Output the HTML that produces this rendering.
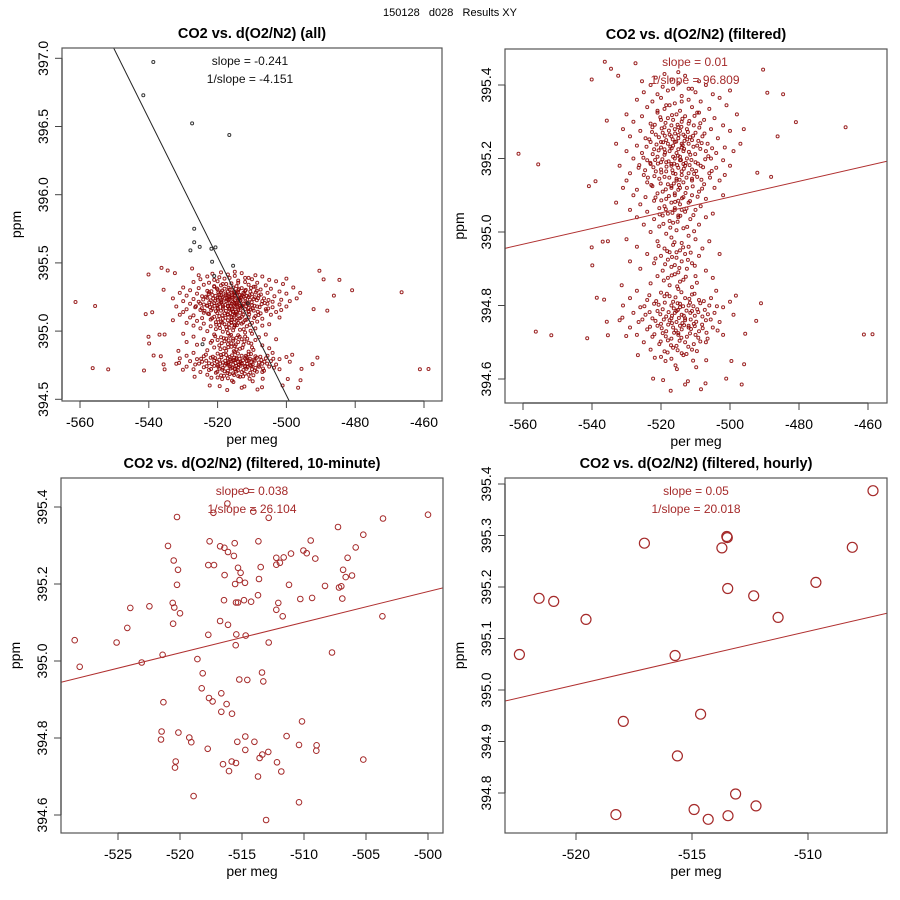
<!DOCTYPE html>
<html><head><meta charset="utf-8"><title>150128 d028 Results XY</title>
<style>
html,body{margin:0;padding:0;background:#fff;}
svg{display:block;font-family:"Liberation Sans",Arial,sans-serif;}
</style></head>
<body>
<svg id="chart" width="900" height="900" viewBox="0 0 900 900" xmlns="http://www.w3.org/2000/svg">
<rect x="0" y="0" width="900" height="900" fill="#fff"/>
<text x="450" y="16" text-anchor="middle" font-size="11" fill="#000" xml:space="preserve">150128   d028   Results XY</text>
</svg>
<script>
// ---------------- DATA ----------------
const densePts = [
[-521.5,395.42],[-517,395.415],[-513,395.425],[-509,395.41],[-519,395.43],[-515,395.435],
[-523,395.40],[-519.5,395.395],[-515,395.405],[-511,395.39],[-507,395.40],[-525.5,395.41],[-516.5,395.39],
[-525,395.38],[-521,395.375],[-518,395.385],[-514,395.37],[-510,395.38],[-505,395.375],[-500,395.385],[-512,395.39],
[-527,395.36],[-522.5,395.355],[-520,395.365],[-516,395.35],[-512,395.36],[-508.5,395.355],[-503,395.365],[-518.5,395.345],[-514,395.355],
[-524,395.34],[-519,395.335],[-517.5,395.345],[-514.5,395.33],[-511,395.34],[-506,395.335],[-501,395.345],[-521,395.33],[-509,395.325],
[-530,395.32],[-525.5,395.315],[-521,395.325],[-518,395.31],[-515.5,395.32],[-513,395.315],[-509.5,395.325],[-504.5,395.31],[-498,395.32],[-516.5,395.305],
[-528,395.30],[-523,395.295],[-520,395.305],[-517,395.29],[-514,395.30],[-512,395.295],[-507.5,395.305],[-502,395.29],[-519,395.285],[-515,395.285],[-510.5,395.29],
[-531,395.28],[-526,395.275],[-522.5,395.285],[-519.5,395.27],[-516,395.28],[-514.5,395.275],[-512.5,395.28],[-510,395.27],[-505.5,395.28],[-500,395.275],[-496,395.28],[-517.5,395.265],[-513.5,395.265],
[-529,395.26],[-524.5,395.255],[-521.5,395.265],[-518.5,395.25],[-517,395.26],[-515,395.255],[-513,395.26],[-511,395.25],[-508,395.26],[-503.5,395.255],[-520,395.245],[-516,395.245],[-514,395.24],
[-533,395.24],[-527,395.235],[-523,395.245],[-520,395.23],[-518,395.24],[-516.5,395.235],[-514,395.23],[-512,395.24],[-509.5,395.235],[-506.5,395.24],[-501.5,395.23],[-497,395.24],[-515,395.225],[-519,395.225],
[-530,395.22],[-525.5,395.215],[-522,395.225],[-519,395.21],[-517.5,395.22],[-515.5,395.215],[-513.5,395.22],[-511.5,395.21],[-507,395.22],[-504,395.215],[-499,395.22],[-516.5,395.205],[-514.5,395.205],
[-528,395.20],[-524,395.195],[-521,395.205],[-518.5,395.19],[-516,395.20],[-514.5,395.195],[-512.5,395.20],[-510,395.19],[-505.5,395.20],[-502,395.195],[-517,395.185],[-513.5,395.185],[-520,395.19],
[-532,395.18],[-526.5,395.175],[-523,395.185],[-520,395.17],[-517,395.18],[-515,395.175],[-513,395.18],[-511,395.17],[-508.5,395.18],[-504,395.175],[-500,395.18],[-518.5,395.165],[-514,395.165],
[-529,395.16],[-525,395.155],[-521.5,395.165],[-519,395.15],[-516.5,395.16],[-514,395.155],[-512,395.16],[-509.5,395.15],[-506,395.16],[-501.5,395.155],[-515.5,395.145],[-511,395.145],
[-530,395.14],[-524,395.135],[-520.5,395.145],[-518,395.13],[-515.5,395.14],[-513.5,395.135],[-511,395.14],[-507.5,395.13],[-503,395.14],[-517,395.125],[-514.5,395.12],
[-531,395.12],[-527,395.115],[-522.5,395.125],[-519.5,395.11],[-517,395.12],[-515,395.115],[-512.5,395.12],[-509,395.11],[-504.5,395.12],[-516,395.105],
[-528,395.10],[-524.5,395.095],[-521,395.105],[-518.5,395.09],[-516,395.10],[-513.5,395.095],[-511,395.10],[-507,395.09],[-502,395.10],[-515,395.085],
[-533,395.08],[-526,395.075],[-522,395.085],[-519,395.07],[-517,395.08],[-514.5,395.075],[-512,395.08],[-508.5,395.07],[-516,395.065],[-514,395.06],
[-529,395.06],[-524,395.055],[-520.5,395.065],[-518,395.05],[-516,395.06],[-513,395.055],[-510,395.06],[-505,395.05],[-515,395.045],
[-527,395.04],[-522,395.035],[-519.5,395.045],[-517.5,395.03],[-515,395.04],[-511.5,395.035],[-507,395.04],
[-525,395.02],[-520.5,395.015],[-516.5,395.025],[-513.5,395.01],[-509,395.02],
[-523,395.00],[-518.5,394.995],[-515.5,395.005],[-512,394.99],
[-530,394.98],[-521,394.975],[-517,394.985],[-514,394.97],[-510,394.98],[-506,394.975],
[-527,394.96],[-519,394.955],[-516.5,394.965],[-514.5,394.95],[-512,394.96],[-508,394.955],[-515.5,394.945],
[-524,394.94],[-520,394.935],[-517.5,394.945],[-515.5,394.93],[-513,394.94],[-509,394.935],[-503,394.94],
[-529,394.92],[-522,394.915],[-518,394.925],[-516,394.91],[-514,394.92],[-511,394.915],
[-526,394.90],[-519.5,394.895],[-517,394.905],[-515,394.89],[-512.5,394.90],[-507,394.895],
[-521,394.88],[-518,394.875],[-516,394.885],[-513.5,394.87],[-510,394.88],[-505,394.875],
[-523,394.86],[-517.5,394.855],[-514.5,394.865],[-511,394.85],
[-527,394.84],[-520,394.835],[-515,394.845],[-511,394.83],[-504,394.84],[-517.5,394.825],
[-529,394.82],[-524,394.815],[-519,394.825],[-516.5,394.81],[-513,394.82],[-509,394.815],[-505.5,394.82],[-500,394.81],[-514.5,394.805],
[-531,394.80],[-526,394.795],[-522,394.805],[-519.5,394.79],[-517,394.80],[-514.5,394.795],[-512,394.80],[-509.5,394.79],[-506,394.80],[-502,394.795],[-515.5,394.785],[-511,394.785],
[-528,394.78],[-524.5,394.775],[-521,394.785],[-518.5,394.77],[-516,394.78],[-514,394.775],[-511.5,394.78],[-508,394.77],[-504.5,394.78],[-499,394.775],[-513,394.765],[-517,394.765],
[-532,394.76],[-526.5,394.755],[-522.5,394.765],[-520,394.75],[-517.5,394.76],[-515.5,394.755],[-513,394.76],[-510.5,394.75],[-507,394.76],[-503,394.755],[-514.5,394.745],[-512,394.745],
[-529,394.74],[-524,394.735],[-521,394.745],[-518.5,394.73],[-516.5,394.74],[-514,394.735],[-512,394.74],[-509,394.73],[-505,394.74],[-515,394.725],
[-527,394.72],[-522.5,394.715],[-519.5,394.725],[-517,394.71],[-515,394.72],[-512.5,394.715],[-510,394.72],[-506.5,394.71],[-502,394.72],
[-525,394.70],[-520.5,394.695],[-518,394.705],[-515.5,394.69],[-513,394.70],[-510.5,394.695],[-507,394.70],
[-523,394.68],[-519,394.675],[-516.5,394.685],[-514,394.67],[-511,394.68],
[-520,394.66],[-517,394.655],[-513.5,394.665]
];
// additional core points (dense centre of the clusters)
const densePts2 = [
[-520.2,395.312],[-518.7,395.297],[-516.8,395.318],[-515.2,395.292],[-513.8,395.308],[-511.8,395.302],[-510.3,395.316],[-508.6,395.296],
[-521.8,395.292],[-519.8,395.282],[-517.7,395.276],[-515.9,395.268],[-514.1,395.286],[-512.2,395.272],[-510.7,395.262],[-508.9,395.284],
[-522.6,395.272],[-520.6,395.258],[-518.9,395.262],[-516.6,395.252],[-514.9,395.264],[-513.2,395.248],[-511.6,395.258],[-509.2,395.248],[-507.4,395.268],
[-523.4,395.252],[-521.3,395.238],[-519.4,395.244],[-517.3,395.232],[-515.6,395.246],[-513.7,395.236],[-512.4,395.252],[-510.6,395.232],[-508.2,395.242],[-505.2,395.228],
[-524.2,395.232],[-522.4,395.212],[-520.7,395.222],[-518.8,395.216],[-516.9,395.228],[-515.1,395.208],[-513.3,395.226],[-511.9,395.218],[-510.1,395.212],[-508.6,395.226],[-506.3,395.206],
[-525.1,395.202],[-523.1,395.188],[-521.7,395.196],[-519.6,395.198],[-517.8,395.192],[-516.2,395.186],[-514.2,395.196],[-512.8,395.188],[-511.2,395.196],[-509.3,395.186],[-507.2,395.198],
[-526.3,395.182],[-524.6,395.168],[-522.2,395.176],[-520.9,395.186],[-518.4,395.178],[-516.7,395.168],[-515.3,395.182],[-513.4,395.172],[-511.7,395.182],[-509.8,395.166],[-507.8,395.176],[-505.3,395.166],
[-523.8,395.148],[-521.9,395.152],[-519.9,395.162],[-517.6,395.148],[-515.8,395.158],[-514.6,395.142],[-512.6,395.148],[-510.4,395.158],[-508.3,395.142],[-505.8,395.148],
[-522.8,395.128],[-520.1,395.132],[-518.6,395.116],[-516.3,395.132],[-514.8,395.128],[-512.9,395.106],[-510.8,395.124],[-508.1,395.118],
[-521.6,395.094],[-519.9,395.086],[-517.7,395.098],[-515.9,395.082],[-513.9,395.092],[-511.6,395.084],[-509.4,395.096],
[-520.4,395.048],[-518.6,395.062],[-516.7,395.052],[-514.4,395.044],[-512.6,395.064],[-510.6,395.046],
[-519.3,395.022],[-517.3,395.012],[-515.2,395.028],[-512.4,395.014],[-510.4,395.002],
[-520.7,394.962],[-518.2,394.948],[-516.1,394.972],[-513.6,394.958],[-511.4,394.944],
[-521.6,394.928],[-518.8,394.912],[-516.8,394.932],[-514.7,394.902],[-512.2,394.924],[-510.2,394.908],
[-519.2,394.868],[-516.9,394.882],[-515.3,394.852],[-512.8,394.878],[-509.6,394.862],
[-523.4,394.828],[-521.4,394.812],[-518.3,394.832],[-515.8,394.822],[-514.1,394.836],[-511.8,394.818],[-510.3,394.832],[-507.6,394.812],
[-524.8,394.798],[-520.7,394.802],[-518.9,394.808],[-516.3,394.792],[-515.2,394.806],[-513.6,394.798],[-511.6,394.808],[-510.6,394.798],[-508.6,394.806],[-507.3,394.788],[-503.8,394.798],
[-523.3,394.782],[-520.2,394.776],[-517.8,394.782],[-516.8,394.772],[-515.1,394.788],[-513.4,394.772],[-512.6,394.786],[-510.2,394.772],[-509.2,394.782],[-506.4,394.776],
[-525.4,394.762],[-521.6,394.758],[-519.2,394.762],[-516.8,394.752],[-514.8,394.766],[-513.8,394.752],[-511.4,394.762],[-509.8,394.756],[-508.1,394.748],[-505.6,394.762],
[-523.2,394.742],[-519.8,394.738],[-517.9,394.748],[-515.7,394.732],[-513.3,394.746],[-511.3,394.736],[-510.2,394.744],[-507.9,394.738],[-503.6,394.732],
[-521.9,394.722],[-518.6,394.716],[-516.2,394.726],[-514.1,394.712],[-511.6,394.724],[-509.2,394.712],[-506.8,394.726],
[-520.1,394.702],[-517.1,394.692],[-514.6,394.704],[-512.1,394.688],[-508.6,394.702],
[-518.1,394.672],[-515.2,394.678],[-512.6,394.668],[-509.6,394.676]
];
const sparsePts = [
[-536.3,395.463],[-534.5,395.444],[-527.4,395.459],[-532.4,395.425],[-540.1,395.415],[-490.4,395.442],
[-484.6,395.375],[-489.2,395.379],[-480.9,395.299],[-466.5,395.285],[-486.2,395.26],[-561.3,395.213],
[-555.6,395.184],[-535.7,395.303],[-540.9,395.125],[-539.0,395.138],[-488.1,395.15],[-492.1,395.161],
[-540.1,394.958],[-536.9,394.974],[-535.4,394.975],[-539.9,394.909],[-538.6,394.821],[-536.5,394.816],
[-556.3,394.729],[-551.8,394.719],[-541.4,394.711],[-461.2,394.721],[-458.7,394.722],[-491.0,394.806],
[-492.4,394.758],[-495.6,394.723],[-495.9,394.64],[-496.6,394.585],[-501.1,394.601],[-517.2,394.568],
[-522.3,394.601],[-526.7,394.665],[-535.7,394.756],[-535.4,394.719],[-530.1,394.717],[-531.2,394.767],
[-531.4,394.855],[-498.3,394.827],[-499.6,394.649],[-509.8,394.632],[-507.1,394.588],[-513.0,394.585],
[-508.4,394.572],[-512.2,394.594],[-519.4,394.597],[-515.8,394.637],[-518.7,394.649],[-521.8,394.658],
[-510.7,394.65],[-506.9,394.651],[-515.4,394.627]
];
const rejectedPts = [
[-538.7,396.973],[-541.6,396.729],[-527.4,396.523],[-516.6,396.438],[-526.8,395.751],[-526.8,395.651],
[-527.9,395.592],[-525.2,395.617],[-521.8,395.604],[-520.6,395.614],[-521.6,395.509],[-515.5,395.479],
[-521.0,395.404],[-511.2,395.204],[-524.4,394.903]
];
const tenMinPts = [
[-528.49,395.054],[-528.09,394.985],[-525.11,395.048],[-524.25,395.086],[-524.01,395.138],[-522.47,395.142],
[-523.09,394.996],[-521.40,395.016],[-521.34,394.893],[-521.48,394.817],[-521.53,394.796],[-520.97,395.299],
[-520.51,395.261],[-520.16,395.237],[-520.24,395.198],[-520.24,395.374],[-520.59,395.151],[-520.46,395.139],
[-520.00,395.124],[-520.56,395.097],[-520.13,394.814],[-520.35,394.739],[-520.40,394.723],[-519.25,394.801],
[-519.09,394.789],[-518.90,394.649],[-518.60,395.005],[-518.17,394.968],[-518.25,394.929],[-517.66,394.904],
[-517.37,394.895],[-517.72,395.068],[-517.61,395.311],[-517.72,395.249],[-517.26,395.249],[-517.31,395.385],
[-517.77,394.772],[-516.77,395.298],[-516.42,395.294],[-516.13,395.283],[-515.65,395.273],[-515.59,395.306],
[-516.18,395.409],[-516.40,395.223],[-516.45,395.158],[-516.77,395.104],[-516.13,395.094],[-516.67,394.916],
[-516.24,394.888],[-516.67,394.868],[-515.81,394.863],[-516.53,394.732],[-515.83,394.739],[-515.48,394.735],
[-516.05,394.714],[-515.56,395.200],[-515.32,395.242],[-515.11,395.229],[-515.19,395.210],[-514.76,395.203],
[-515.48,395.152],[-515.32,395.152],[-514.84,395.158],[-514.27,395.154],[-515.46,395.069],[-515.51,395.041],
[-514.70,395.066],[-515.22,394.952],[-514.57,394.951],[-515.38,394.790],[-514.73,394.804],[-514.73,394.769],
[-514.00,394.790],[-513.71,394.700],[-513.58,394.748],[-513.36,394.757],[-512.88,394.764],[-513.06,394.587],
[-514.09,395.388],[-514.68,395.442],[-512.85,395.372],[-513.68,395.311],[-513.49,395.244],[-513.63,395.213],
[-513.71,395.171],[-513.39,394.970],[-513.28,394.947],[-512.85,395.048],[-512.23,395.268],[-512.23,395.250],
[-511.94,395.255],[-511.64,395.269],[-512.23,395.133],[-512.07,395.151],[-511.72,395.116],[-512.18,394.737],
[-511.83,394.713],[-511.40,394.805],[-511.21,395.198],[-511.05,395.279],[-510.40,394.782],[-510.40,394.633],
[-510.16,394.843],[-510.30,395.161],[-510.05,395.287],[-509.78,395.280],[-509.46,395.313],[-509.35,395.164],
[-509.09,395.266],[-508.98,394.781],[-509.01,394.767],[-508.31,395.195],[-507.74,395.022],[-507.26,395.348],
[-507.18,395.191],[-506.99,395.194],[-506.91,395.162],[-506.85,395.237],[-506.64,395.218],[-506.48,395.268],
[-506.13,395.222],[-505.83,395.295],[-505.22,395.328],[-505.22,394.744],[-503.68,395.116],[-503.63,395.370],
[-500.00,395.380]
];
const hourlyPts = [
[-522.44,395.069],[-521.59,395.178],[-520.96,395.172],[-519.57,395.137],[-517.05,395.285],[-517.96,394.939],
[-515.73,395.067],[-515.63,394.872],[-514.63,394.953],[-518.28,394.758],[-514.91,394.768],[-514.30,394.749],
[-513.45,394.756],[-513.12,394.798],[-512.24,394.775],[-513.71,395.276],[-513.48,395.296],[-513.50,395.298],
[-513.46,395.197],[-512.34,395.183],[-511.29,395.141],[-509.66,395.209],[-508.09,395.277],[-507.20,395.387]
];
const ticksX1 = [-560,-540,-520,-500,-480,-460];
const ticksY1 = [394.5,395.0,395.5,396.0,396.5,397.0];
const ticksX2 = [-560,-540,-520,-500,-480,-460];
const ticksY2 = [394.6,394.8,395.0,395.2,395.4];
const ticksX3 = [-525,-520,-515,-510,-505,-500];
const ticksY3 = [394.6,394.8,395.0,395.2,395.4];
const ticksX4 = [-520,-515,-510];
const ticksY4 = [394.8,394.9,395.0,395.1,395.2,395.3,395.4];
const fit1 = [-0.0507, 395.290];
const fit2 = [0.00214, 395.063];
const fit3 = [0.00796, 395.061];
const fit4 = [0.01036, 395.062];
const stats1 = ["slope = -0.241", "1/slope = -4.151"];
const stats2 = ["slope = 0.01", "1/slope = 96.809"];
const stats3 = ["slope = 0.038", "1/slope = 26.104"];
const stats4 = ["slope = 0.05", "1/slope = 20.018"];

// ---------------- DRAW ----------------
const NS = "http://www.w3.org/2000/svg";
const svg = document.getElementById("chart");
function mk(tag, attrs, parent) {
  const e = document.createElementNS(NS, tag);
  for (const k in attrs) e.setAttribute(k, attrs[k]);
  (parent || svg).appendChild(e);
  return e;
}

function panel(cfg) {
  const g = mk("g", {});
  
  
  const sx = v => cfg.x0px + (v - cfg.x0) * cfg.kx;
  const sy = v => cfg.y0px + (cfg.y0 - v) * cfg.ky;
  const L = cfg.box[0], T = cfg.box[1], R = cfg.box[2], B = cfg.box[3];
  const cid = "clip-" + cfg.name;
  const defs = mk("defs", {}, g);
  const cp = mk("clipPath", {id: cid}, defs);
  mk("rect", {x: L, y: T, width: R - L, height: B - T}, cp);

  const t = mk("text", {x: (L + R) / 2, y: T - 10, "text-anchor": "middle", "font-size": "14.5", "font-weight": "bold", fill: "#000"}, g);
  t.textContent = cfg.title;
  
  

  const pg = mk("g", {"clip-path": "url(#" + cid + ")"}, g);
  
  
  cfg.series.forEach(s => {
    s.pts.forEach(p => {
      const c = mk("circle", {cx: sx(p[0]).toFixed(1), cy: sy(p[1]).toFixed(1), r: s.r, fill: "none", stroke: s.color, "stroke-width": s.sw, "stroke-opacity": s.op}, pg);
      
      
    });
  });
  const xa = cfg.x0 + (L - cfg.x0px) / cfg.kx, xb = cfg.x0 + (R - cfg.x0px) / cfg.kx;
  const ya = cfg.fit[1] + cfg.fit[0] * (xa + 515), yb = cfg.fit[1] + cfg.fit[0] * (xb + 515);
  const ln = mk("line", {x1: sx(xa), y1: sy(ya), x2: sx(xb), y2: sy(yb), stroke: cfg.lineColor, "stroke-width": 1}, pg);
  
  

  cfg.stats.forEach((s, i) => {
    const st = mk("text", {x: cfg.statX, y: T + 17 + i * 18, "text-anchor": "middle", "font-size": "12", fill: cfg.textColor}, g);
    st.textContent = s;
    
    
  });

  const bx = mk("rect", {x: L, y: T, width: R - L, height: B - T, fill: "none", stroke: "#555", "stroke-width": 1.2}, g);
  
  

  const xg = mk("g", {}, g);
  
  
  mk("line", {x1: sx(cfg.tx[0]), y1: B, x2: sx(cfg.tx[cfg.tx.length - 1]), y2: B, stroke: "#444", "stroke-width": 1.2}, xg);
  cfg.tx.forEach(v => {
    mk("line", {x1: sx(v), y1: B, x2: sx(v), y2: B + 7, stroke: "#444", "stroke-width": 1}, xg);
    const tl = mk("text", {x: sx(v), y: B + 26, "text-anchor": "middle", "font-size": "14", fill: "#000"}, xg);
    tl.textContent = String(v);
    
    
  });
  const xt = mk("text", {x: (L + R) / 2, y: B + 43, "text-anchor": "middle", "font-size": "14", fill: "#000"}, g);
  xt.textContent = "per meg";
  
  

  const yg = mk("g", {}, g);
  
  
  mk("line", {x1: L, y1: sy(cfg.ty[0]), x2: L, y2: sy(cfg.ty[cfg.ty.length - 1]), stroke: "#444", "stroke-width": 1.2}, yg);
  cfg.ty.forEach(v => {
    mk("line", {x1: L - 7, y1: sy(v), x2: L, y2: sy(v), stroke: "#444", "stroke-width": 1}, yg);
    const yy = sy(v), xx = L - 14;
    const tl = mk("text", {x: xx, y: yy, "text-anchor": "middle", "font-size": "14", fill: "#000", transform: "rotate(-90 " + xx + " " + yy + ")"}, yg);
    tl.textContent = v.toFixed(1);
    
    
  });
  const yx = L - 41, yy = (T + B) / 2;
  const yt = mk("text", {x: yx, y: yy, "text-anchor": "middle", "font-size": "14", fill: "#000", transform: "rotate(-90 " + yx + " " + yy + ")"}, g);
  yt.textContent = "ppm";
  
  
}

const RED = "#8b0000", RED2 = "#a52a2a";
panel({name: "panel-all", title: "CO2 vs. d(O2/N2) (all)", box: [62, 48, 442, 401],
  x0: -560, x0px: 80, kx: 3.44, y0: 397.0, y0px: 58.3, ky: 136.4,
  tx: ticksX1, ty: ticksY1, fit: fit1, lineColor: "#222", textColor: "#111", stats: stats1, statX: 250,
  series: [{pts: densePts, color: RED, r: 1.5, sw: 1, op: 0.85}, {pts: densePts2, color: RED, r: 1.5, sw: 1, op: 0.85},
           {pts: sparsePts, color: RED, r: 1.5, sw: 1, op: 0.85},
           {pts: rejectedPts, color: "#222", r: 1.5, sw: 1, op: 0.9}]});
panel({name: "panel-filtered", title: "CO2 vs. d(O2/N2) (filtered)", box: [505, 49, 887, 403],
  x0: -560, x0px: 523, kx: 3.45, y0: 395.4, y0px: 85, ky: 367.5,
  tx: ticksX2, ty: ticksY2, fit: fit2, lineColor: "#b03030", textColor: "#a52a2a", stats: stats2, statX: 695,
  series: [{pts: densePts, color: RED, r: 1.5, sw: 1, op: 0.85}, {pts: densePts2, color: RED, r: 1.5, sw: 1, op: 0.85},
           {pts: sparsePts, color: RED, r: 1.5, sw: 1, op: 0.85}]});
panel({name: "panel-10min", title: "CO2 vs. d(O2/N2) (filtered, 10-minute)", box: [61, 478, 443, 833],
  x0: -525, x0px: 118, kx: 12.4, y0: 395.4, y0px: 507, ky: 385,
  tx: ticksX3, ty: ticksY3, fit: fit3, lineColor: "#b03030", textColor: "#a52a2a", stats: stats3, statX: 252,
  series: [{pts: tenMinPts, color: RED2, r: 2.8, sw: 1, op: 1}]});
panel({name: "panel-hourly", title: "CO2 vs. d(O2/N2) (filtered, hourly)", box: [505, 478, 887, 833],
  x0: -520, x0px: 576, kx: 23.2, y0: 395.4, y0px: 484, ky: 515,
  tx: ticksX4, ty: ticksY4, fit: fit4, lineColor: "#b03030", textColor: "#a52a2a", stats: stats4, statX: 696,
  series: [{pts: hourlyPts, color: RED2, r: 5, sw: 1.2, op: 1}]});
</script>
</body></html>
